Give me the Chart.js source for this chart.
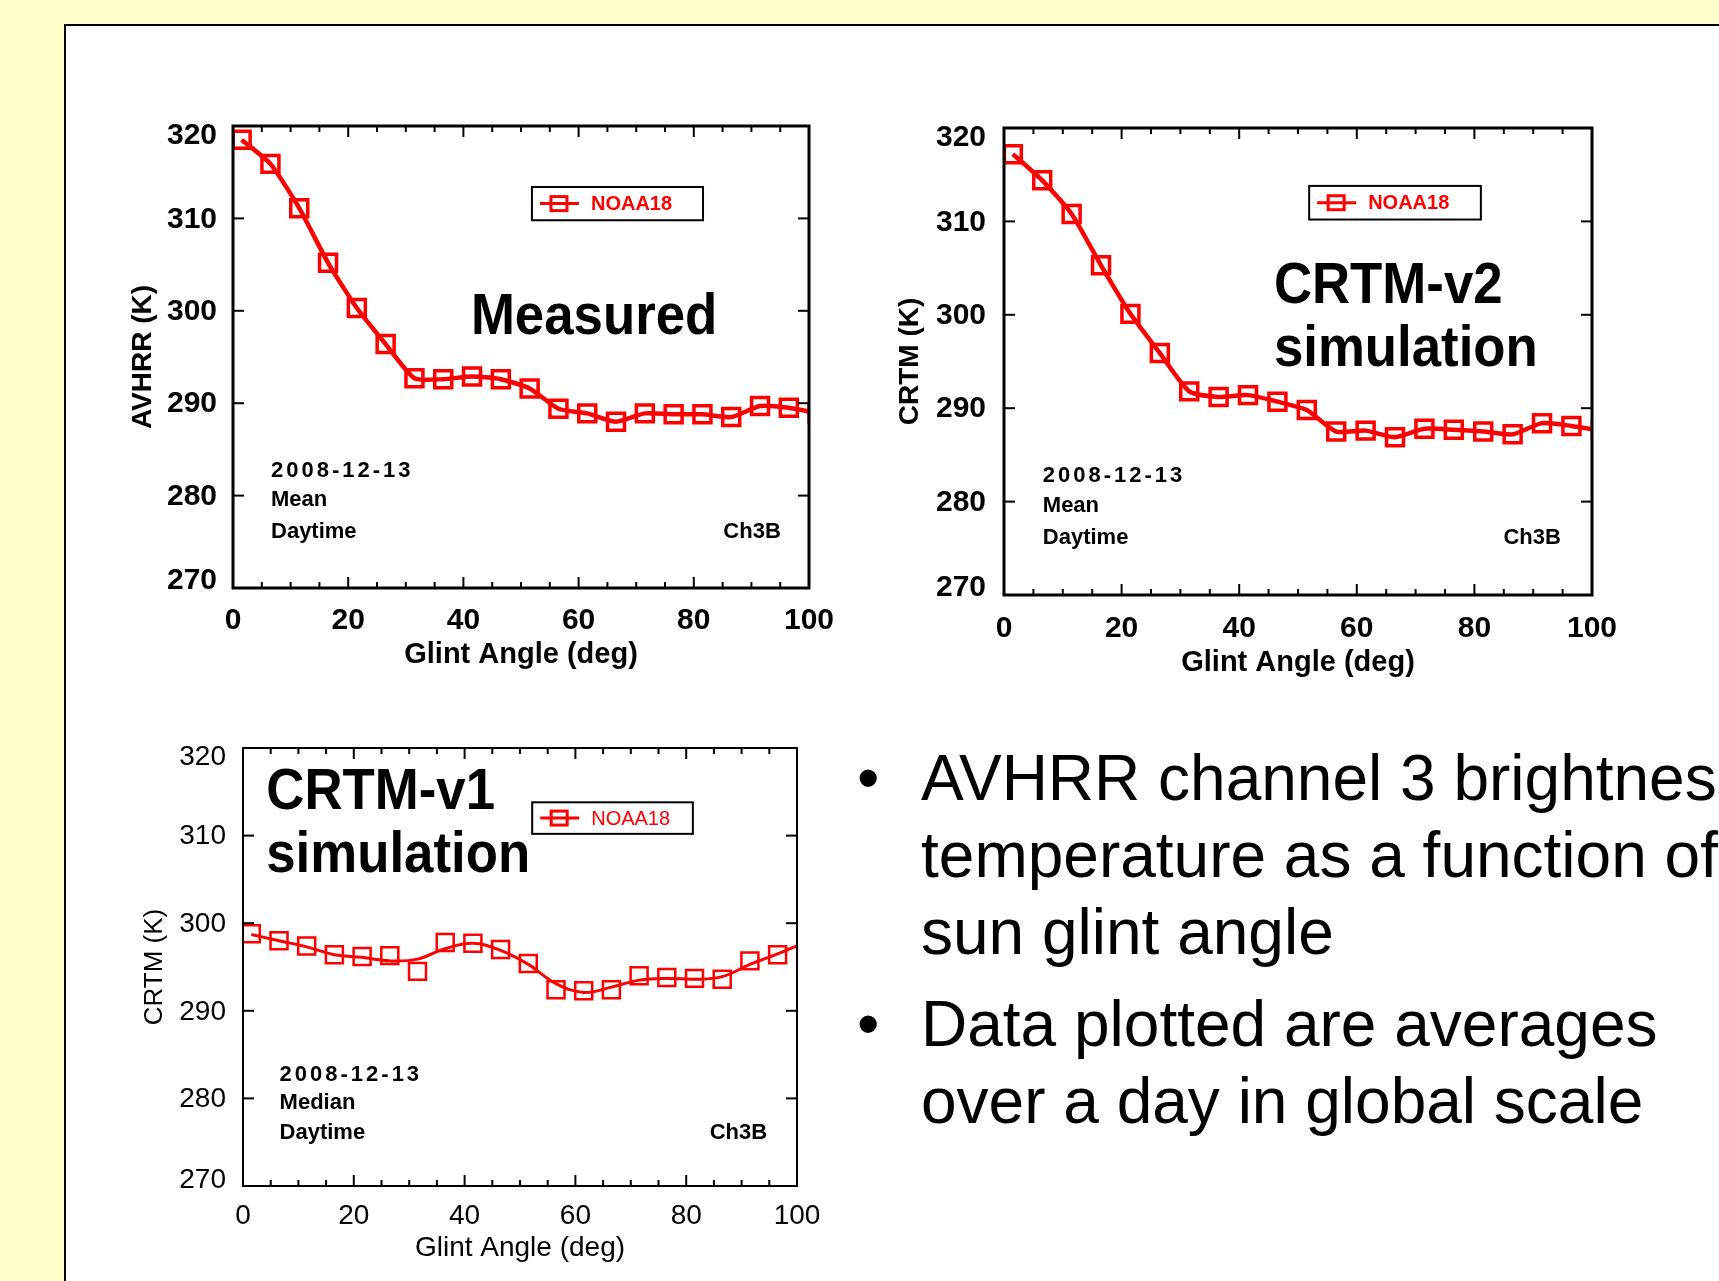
<!DOCTYPE html>
<html>
<head>
<meta charset="utf-8">
<script src="https://cdn.jsdelivr.net/npm/chart.js@4.4.0/dist/chart.umd.min.js"></script>
<style>
  html, body { margin: 0; padding: 0; }
  body {
    width: 1719px; height: 1281px; overflow: hidden; position: relative;
    background: #ffffcc; font-family: "Liberation Sans", Arial, sans-serif;
  }
  #panel {
    position: absolute; left: 64px; top: 24px; width: 1700px; height: 1300px;
    background: #fff; border-top: 2px solid #000; border-left: 2px solid #000;
  }
  canvas { position: absolute; }
  .txt { position: absolute; font-size: 64px; line-height: 77px; white-space: nowrap; color: #000; }
</style>
</head>
<body>
<div id="panel"></div>
<canvas id="measured" width="719" height="572" style="left:126px; top:100px;"></canvas>
<canvas id="crtmV2" width="735" height="580" style="left:893px; top:100px;"></canvas>
<canvas id="crtmV1" width="690" height="545" style="left:139px; top:720px;"></canvas>

<div class="txt" style="left:857px; top:740px;">•</div>
<div class="txt" style="left:921px; top:740px;">AVHRR channel 3 brightness</div>
<div class="txt" style="left:921px; top:817px;">temperature as a function of</div>
<div class="txt" style="left:921px; top:894px;">sun glint angle</div>
<div class="txt" style="left:857px; top:986px;">•</div>
<div class="txt" style="left:921px; top:986px;">Data plotted are averages</div>
<div class="txt" style="left:921px; top:1063px;">over a day in global scale</div>

<script>
// glint angle bin centres (deg); the last one sits past the axis end and gets clipped
const glintAngle = [1.5, 6.5, 11.5, 16.5, 21.5, 26.5, 31.5, 36.5, 41.5, 46.5,
                    51.5, 56.5, 61.5, 66.5, 71.5, 76.5, 81.5, 86.5, 91.5, 96.5, 101.5];

// AVHRR measured brightness temperature (K)
const measuredTb = [318.5, 315.9, 311.1, 305.2, 300.3, 296.4, 292.7, 292.6, 292.9, 292.6,
                    291.6, 289.4, 288.9, 288.0, 288.9, 288.8, 288.8, 288.5, 289.7, 289.5, 288.9];

// CRTM-v2 simulated (K)
const crtmV2Tb = [317.2, 314.4, 310.8, 305.3, 300.1, 295.9, 291.8, 291.2, 291.4, 290.7,
                  289.8, 287.5, 287.6, 286.9, 287.8, 287.7, 287.5, 287.2, 288.4, 288.1, 287.6];

// CRTM-v1 simulated (K): symbols and the smoothed curve drawn through them
const crtmV1Marks = [298.8, 298.0, 297.4, 296.4, 296.2, 296.3, 294.5, 297.8, 297.7, 297.0,
                     295.4, 292.4, 292.3, 292.4, 294.0, 293.8, 293.7, 293.6, 295.7, 296.4];
const crtmV1Curve = [298.7, 298.0, 297.3, 296.4, 296.1, 295.7, 295.9, 297.1, 297.7, 296.9,
                     295.3, 293.1, 292.1, 292.7, 293.5, 293.7, 293.6, 293.9, 295.3, 296.5, 297.8];

const xTicks = [0, 20, 40, 60, 80, 100];
const yTicks = [270, 280, 290, 300, 310, 320];

const RED = '#ff0000';
const FONT = '"Liberation Sans", Arial, sans-serif';

function pts(ys) {
    return ys.map((y, i) => ({ x: glintAngle[i], y: y }));
}

// IDL style box: inward ticks on all four sides, legend box and text notes
function framePlugin(cfg) {
    return {
        id: 'idlFrame',
        afterDraw(chart) {
            const ctx = chart.ctx, a = chart.chartArea;
            const xs = chart.scales.x, ys = chart.scales.y;
            const seg = (x0, y0, x1, y1) => {
                ctx.beginPath(); ctx.moveTo(x0, y0); ctx.lineTo(x1, y1); ctx.stroke();
            };
            ctx.save();
            ctx.strokeStyle = '#000';
            ctx.lineWidth = cfg.tickWidth;
            for (let v = xs.min; v <= xs.max; v += 5) {
                const px = xs.getPixelForValue(v);
                const len = v % 20 === 0 ? 11 : 6;
                seg(px, a.bottom, px, a.bottom - len);
                seg(px, a.top, px, a.top + len);
            }
            yTicks.forEach(v => {
                const py = ys.getPixelForValue(v);
                seg(a.left, py, a.left + 11, py);
                seg(a.right, py, a.right - 11, py);
            });
            ctx.lineWidth = cfg.frameWidth;
            ctx.strokeRect(a.left, a.top, a.right - a.left, a.bottom - a.top);

            // legend
            const lg = cfg.legend;
            const bx0 = xs.getPixelForValue(lg.x0), bx1 = xs.getPixelForValue(lg.x1);
            const by0 = ys.getPixelForValue(lg.y0), by1 = ys.getPixelForValue(lg.y1);
            ctx.fillStyle = '#fff';
            ctx.fillRect(bx0, by0, bx1 - bx0, by1 - by0);
            ctx.lineWidth = 2;
            ctx.strokeRect(bx0, by0, bx1 - bx0, by1 - by0);
            const cy = (by0 + by1) / 2;
            ctx.strokeStyle = RED;
            ctx.lineWidth = 3;
            seg(bx0 + 8, cy, bx0 + 47, cy);
            ctx.strokeRect(bx0 + 19, cy - 7, 16, 14);
            ctx.fillStyle = RED;
            ctx.font = cfg.legendWeight + ' 20px ' + FONT;
            ctx.textBaseline = 'middle';
            ctx.textAlign = 'left';
            ctx.fillText(chart.data.datasets[0].label, bx0 + 59, cy + 1);

            // notes
            ctx.fillStyle = '#000';
            cfg.notes.forEach(n => {
                ctx.save();
                ctx.font = 'bold ' + n.size + 'px ' + FONT;
                ctx.letterSpacing = (n.spacing || 0) + 'px';
                ctx.textAlign = n.align || 'left';
                ctx.textBaseline = n.baseline || 'middle';
                ctx.translate(xs.getPixelForValue(n.x), ys.getPixelForValue(n.y));
                ctx.scale(n.squeeze || 1, 1);
                ctx.fillText(n.text, 0, 0);
                ctx.restore();
            });
            ctx.restore();
        }
    };
}

// end labels of the y axis are pulled inside the box, as IDL does
const yTop = yTicks[yTicks.length - 1], yBottom = yTicks[0];
function yLabel(v) {
    if (v === yTop) return ['', String(v)];
    if (v === yBottom) return [String(v), ''];
    return String(v);
}

function makeChart(id, datasets, cfg) {
    const tickFont = { family: FONT, size: cfg.tickSize, weight: cfg.weight };
    const yTickFont = c => {
        const v = c.tick ? c.tick.value : null;
        const lh = v === yTop ? cfg.endShift * 2 + 'px' : v === yBottom ? cfg.endShift * 2 - 2 + 'px' : 1.2;
        return { family: FONT, size: cfg.tickSize, weight: cfg.weight, lineHeight: lh };
    };
    return new Chart(document.getElementById(id), {
        type: 'line',
        data: { datasets: datasets },
        options: {
            responsive: false,
            animation: false,
            devicePixelRatio: 1,
            layout: { padding: { top: cfg.padTop, right: cfg.padRight, left: 0, bottom: 0 } },
            plugins: { legend: { display: false }, tooltip: { enabled: false } },
            scales: {
                x: {
                    type: 'linear', min: 0, max: 100,
                    grid: { display: false }, border: { display: false },
                    afterBuildTicks: s => { s.ticks = xTicks.map(v => ({ value: v })); },
                    afterFit: s => { s.height = cfg.xAxisHeight; },
                    ticks: { color: '#000', font: tickFont, padding: cfg.xTickPad, maxRotation: 0, autoSkip: false },
                    title: {
                        display: true, text: 'Glint Angle (deg)', color: '#000', padding: 0,
                        font: { family: FONT, size: cfg.titleSize, weight: cfg.weight }
                    }
                },
                y: {
                    type: 'linear', min: 270, max: 320,
                    grid: { display: false }, border: { display: false },
                    afterBuildTicks: s => { s.ticks = yTicks.map(v => ({ value: v })); },
                    afterFit: s => { s.width = cfg.yAxisWidth; },
                    ticks: {
                        color: '#000', font: yTickFont, padding: cfg.yTickPad, autoSkip: false,
                        labelOffset: 1, callback: yLabel
                    },
                    title: {
                        display: true, text: cfg.yTitle, color: '#000', padding: 0,
                        font: { family: FONT, size: cfg.yTitleSize, weight: cfg.weight }
                    }
                }
            }
        },
        plugins: [framePlugin(cfg)]
    });
}

function symbolLine(label, values, lineWidth) {
    return {
        label: label,
        data: pts(values),
        borderColor: RED,
        borderWidth: lineWidth,
        tension: 0.2,
        pointStyle: 'rect',
        pointRadius: 12,
        pointBorderWidth: 3.5,
        pointBorderColor: RED,
        pointBackgroundColor: 'rgba(0,0,0,0)',
        clip: 0
    };
}

function sideNotes(first, right) {
    return [
        { text: '2008-12-13', x: 6.6, y: 282.7, size: 22, spacing: 3 },
        { text: first, x: 6.6, y: 279.5, size: 22 },
        { text: 'Daytime', x: 6.6, y: 276.1, size: 22 },
        { text: 'Ch3B', x: right, y: 276.1, size: 22, align: 'right' }
    ];
}

makeChart('measured', [symbolLine('NOAA18', measuredTb, 4.5)], {
    padTop: 26, padRight: 36, yAxisWidth: 107, xAxisHeight: 84,
    xTickPad: 7, yTickPad: 8, tickSize: 30, titleSize: 29, yTitleSize: 28, weight: 'bold',
    endShift: 9,
    yTitle: 'AVHRR (K)', tickWidth: 2, frameWidth: 3, legendWeight: 'bold',
    legend: { x0: 51.9, x1: 81.6, y0: 313.4, y1: 309.8 },
    notes: [{ text: 'Measured', x: 41.3, y: 297.5, size: 58, squeeze: 0.91, baseline: 'alphabetic' }]
        .concat(sideNotes('Mean', 95.1))
});

makeChart('crtmV2', [symbolLine('NOAA18', crtmV2Tb, 4.5)], {
    padTop: 26, padRight: 36, yAxisWidth: 111, xAxisHeight: 85,
    xTickPad: 8, yTickPad: 10, tickSize: 30, titleSize: 29, yTitleSize: 28, weight: 'bold',
    endShift: 9,
    yTitle: 'CRTM (K)', tickWidth: 2, frameWidth: 3, legendWeight: 'bold',
    legend: { x0: 51.9, x1: 81.1, y0: 313.8, y1: 310.2 },
    notes: [
        { text: 'CRTM-v2', x: 45.9, y: 301.3, size: 58, squeeze: 0.91, baseline: 'alphabetic' },
        { text: 'simulation', x: 45.9, y: 294.5, size: 58, squeeze: 0.91, baseline: 'alphabetic' }
    ].concat(sideNotes('Mean', 94.7))
});

const v1Curve = {
    label: 'NOAA18',
    data: pts(crtmV1Curve),
    borderColor: RED,
    borderWidth: 3,
    tension: 0.4,
    pointRadius: 0,
    clip: 0
};
const v1Marks = Object.assign(symbolLine('NOAA18', crtmV1Marks, 0), { showLine: false, pointBorderWidth: 2.5 });

makeChart('crtmV1', [v1Curve, v1Marks], {
    padTop: 28, padRight: 32, yAxisWidth: 104, xAxisHeight: 79,
    xTickPad: 5, yTickPad: 9, tickSize: 28, titleSize: 28, yTitleSize: 26, weight: 'normal',
    endShift: 8,
    yTitle: 'CRTM (K)', tickWidth: 2, frameWidth: 2, legendWeight: 'normal',
    legend: { x0: 52.2, x1: 81.2, y0: 313.8, y1: 310.2 },
    notes: [
        { text: 'CRTM-v1', x: 4.2, y: 313.0, size: 58, squeeze: 0.91, baseline: 'alphabetic' },
        { text: 'simulation', x: 4.2, y: 305.8, size: 58, squeeze: 0.91, baseline: 'alphabetic' }
    ].concat(sideNotes('Median', 94.6))
});
</script>
</body>
</html>
